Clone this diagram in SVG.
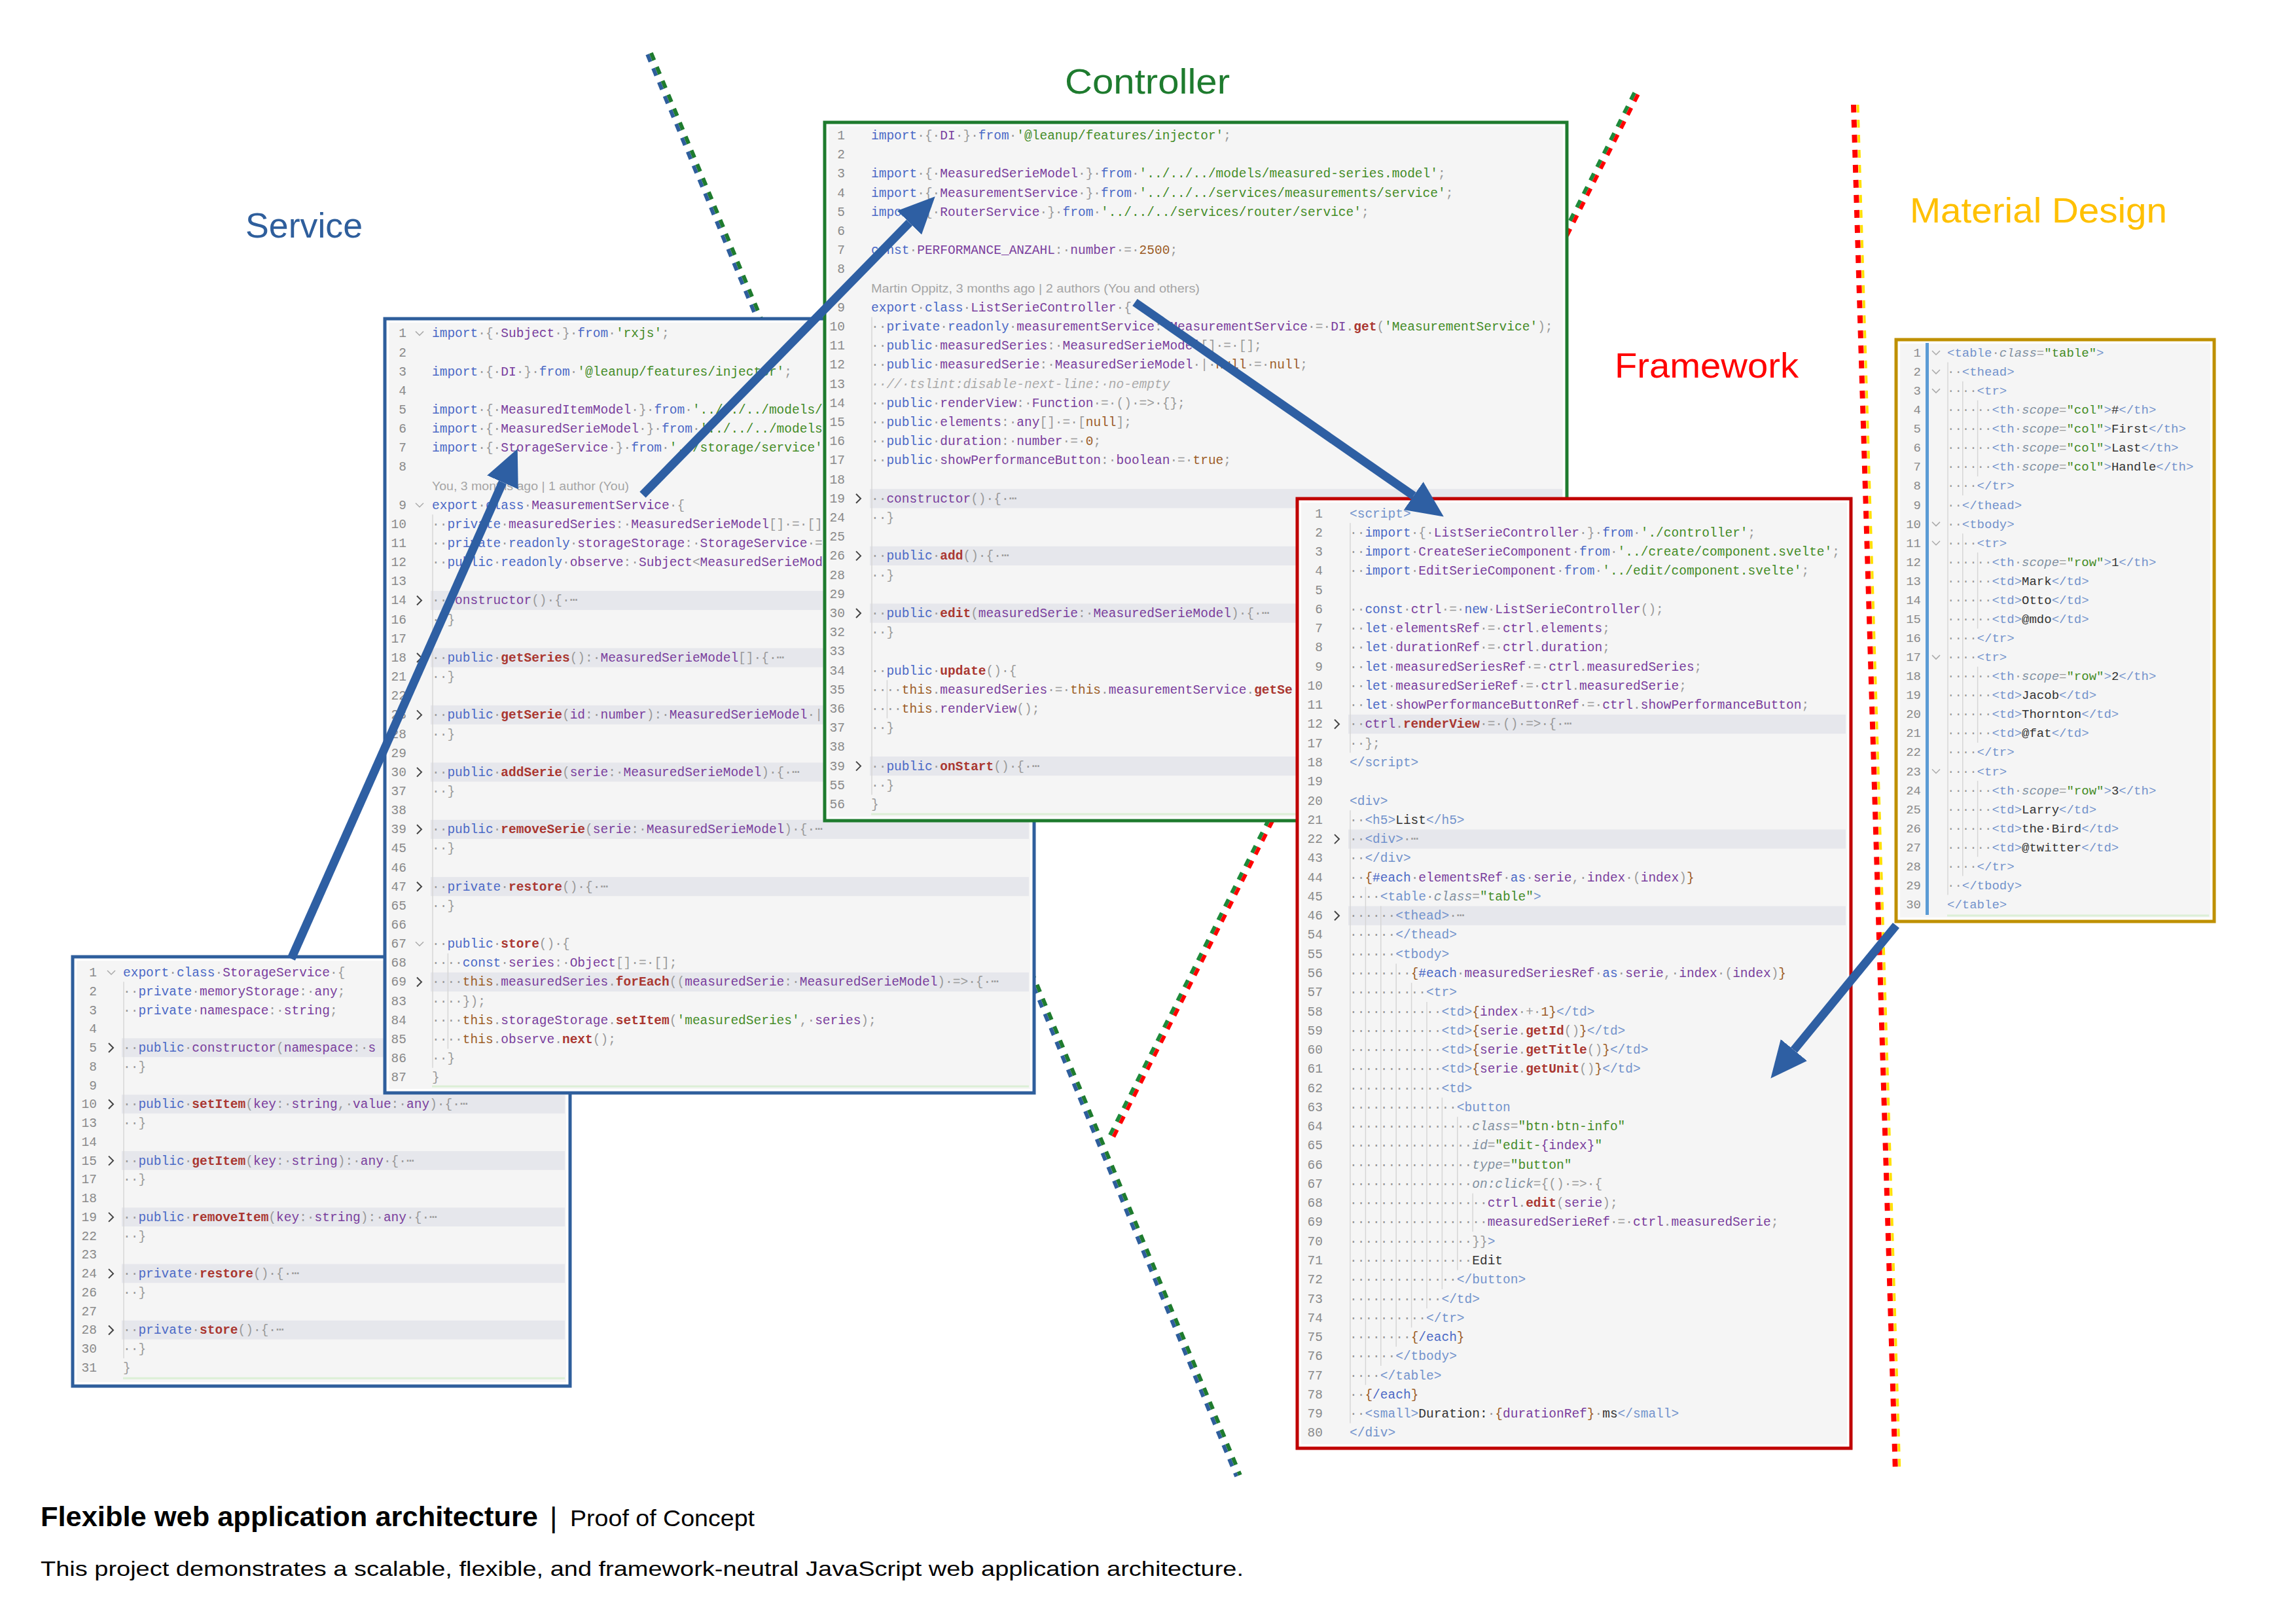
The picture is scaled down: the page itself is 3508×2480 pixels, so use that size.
<svg xmlns="http://www.w3.org/2000/svg" xmlns:xlink="http://www.w3.org/1999/xlink" width="3508" height="2480" viewBox="0 0 3508 2480">
<style>
.pn{fill:#FFFFFF;stroke-width:5}
.bg{fill:#F5F5F5}
.band{fill:#E6E7EC}
.gd{stroke:#D6D6D6;stroke-width:1.5}
.code{font-family:"Liberation Mono","DejaVu Sans Mono",monospace;font-size:19.5px;fill:#9A9A9A}
.m{font-size:19px}
.ln{fill:#8A8A8A;text-anchor:end}
.bl{font-family:"Liberation Sans",Arial,sans-serif;font-size:18px;fill:#A5A5A5}
.k{fill:#4B69C6}
.s{fill:#448C27}
.t{fill:#7A3E9D}
.f{fill:#AA3731;font-weight:bold}
.n{fill:#9C5D27}
.c{fill:#AAAAAA;font-style:italic}
.x{fill:#333333}
.a{fill:#8190A0;font-style:italic}
.tg{fill:#7393CC}
.lbl{font-family:"Liberation Sans",Arial,sans-serif;font-size:54px}
.ft{font-family:"Liberation Sans",Arial,sans-serif;fill:#000000}
.dl{fill:none;stroke-dasharray:12 11}
.arr{stroke:#2E5FA3;stroke-width:13;fill:none;marker-end:url(#ah)}
</style>
<defs>
<marker id="ah" markerUnits="userSpaceOnUse" markerWidth="56" markerHeight="52" refX="0" refY="26" orient="auto"><path d="M0,0 L56,26 L0,52 z" fill="#2E5FA3"/></marker>
<path id="cr" d="M-4,-13 L3,-6 L-4,1" fill="none" stroke="#444444" stroke-width="2"/>
<path id="chd" d="M-6,-9 L0,-3 L6,-9" fill="none" stroke="#AAAAAA" stroke-width="1.5"/>
</defs>
<rect width="3508" height="2480" fill="#FFFFFF"/>

<g id="connectors-dotted">
<path class="dl" d="M989.2,83.2 L1889.2,2256.2" stroke="#2E5E9C" stroke-width="6"/>
<path class="dl" d="M994.8,80.9 L1894.8,2253.9" stroke="#1E7B2E" stroke-width="6"/>
<path class="dl" d="M2497.3,141.7 L1691.3,1743.7" stroke="#1E8A3A" stroke-width="6"/>
<path class="dl" d="M2502.7,144.3 L1696.7,1746.3" stroke="#FF0000" stroke-width="6"/>
<path class="dl" d="M2832,160 L2896,2250" stroke="#FF0000" stroke-width="8"/>
<path class="dl" d="M2838.5,160 L2902.5,2250" stroke="#FFE000" stroke-width="4"/>
</g>

<g id="storage">
<rect class="pn" x="111" y="1462" width="760" height="656" stroke="#2E5E9C"/>
<rect class="bg" x="117" y="1468" width="748" height="644"/>
<line x1="188" y1="2106" x2="863" y2="2106" stroke="#DCEFD6" stroke-width="3"/>
<g class="code" transform="translate(188,1492)">
<rect class="band" x="-2" y="94.44" width="677" height="28.76"/>
<rect class="band" x="-2" y="180.72" width="677" height="28.76"/>
<rect class="band" x="-2" y="267" width="677" height="28.76"/>
<rect class="band" x="-2" y="353.28" width="677" height="28.76"/>
<rect class="band" x="-2" y="439.56" width="677" height="28.76"/>
<rect class="band" x="-2" y="525.84" width="677" height="28.76"/>
<line class="gd" x1="1" y1="8.16" x2="1" y2="583.6"/>
<use xlink:href="#chd" x="-18" y="0"/>
<use xlink:href="#cr" x="-18" y="115.04"/><use xlink:href="#cr" x="-18" y="201.32"/><use xlink:href="#cr" x="-18" y="287.6"/><use xlink:href="#cr" x="-18" y="373.88"/><use xlink:href="#cr" x="-18" y="460.16"/><use xlink:href="#cr" x="-18" y="546.44"/>
<text class="ln"><tspan x="-40" y="0">1</tspan><tspan x="-40" y="28.76">2</tspan><tspan x="-40" y="57.52">3</tspan><tspan x="-40" y="86.28">4</tspan><tspan x="-40" y="115.04">5</tspan><tspan x="-40" y="143.8">8</tspan><tspan x="-40" y="172.56">9</tspan><tspan x="-40" y="201.32">10</tspan><tspan x="-40" y="230.08">13</tspan><tspan x="-40" y="258.84">14</tspan><tspan x="-40" y="287.6">15</tspan><tspan x="-40" y="316.36">17</tspan><tspan x="-40" y="345.12">18</tspan><tspan x="-40" y="373.88">19</tspan><tspan x="-40" y="402.64">22</tspan><tspan x="-40" y="431.4">23</tspan><tspan x="-40" y="460.16">24</tspan><tspan x="-40" y="488.92">26</tspan><tspan x="-40" y="517.68">27</tspan><tspan x="-40" y="546.44">28</tspan><tspan x="-40" y="575.2">30</tspan><tspan x="-40" y="603.96">31</tspan></text>
<text y="0"><tspan class="k">export</tspan>·<tspan class="k">class</tspan>·<tspan class="t">StorageService</tspan>·{</text>
<text y="28.76">··<tspan class="k">private</tspan>·<tspan class="t">memoryStorage</tspan>:·<tspan class="t">any</tspan>;</text>
<text y="57.52">··<tspan class="k">private</tspan>·<tspan class="t">namespace</tspan>:·<tspan class="t">string</tspan>;</text>
<text y="115.04">··<tspan class="k">public</tspan>·<tspan class="t">constructor</tspan>(<tspan class="t">namespace</tspan>:·<tspan class="t">s</tspan></text>
<text y="143.8">··}</text>
<text y="201.32">··<tspan class="k">public</tspan>·<tspan class="f">setItem</tspan>(<tspan class="t">key</tspan>:·<tspan class="t">string</tspan>,·<tspan class="t">value</tspan>:·<tspan class="t">any</tspan>)·{·⋯</text>
<text y="230.08">··}</text>
<text y="287.6">··<tspan class="k">public</tspan>·<tspan class="f">getItem</tspan>(<tspan class="t">key</tspan>:·<tspan class="t">string</tspan>):·<tspan class="t">any</tspan>·{·⋯</text>
<text y="316.36">··}</text>
<text y="373.88">··<tspan class="k">public</tspan>·<tspan class="f">removeItem</tspan>(<tspan class="t">key</tspan>:·<tspan class="t">string</tspan>):·<tspan class="t">any</tspan>·{·⋯</text>
<text y="402.64">··}</text>
<text y="460.16">··<tspan class="k">private</tspan>·<tspan class="f">restore</tspan>()·{·⋯</text>
<text y="488.92">··}</text>
<text y="546.44">··<tspan class="k">private</tspan>·<tspan class="f">store</tspan>()·{·⋯</text>
<text y="575.2">··}</text>
<text y="603.96">}</text>
</g>
</g>

<g id="service">
<rect class="pn" x="588" y="487" width="992" height="1183" stroke="#2E5E9C"/>
<rect class="bg" x="594" y="493" width="980" height="1171"/>
<line x1="660" y1="1660" x2="1572" y2="1660" stroke="#DCEFD6" stroke-width="3"/>
<g class="code" transform="translate(660,515.4)">
<rect class="band" x="-2" y="387.5" width="914" height="29.15"/>
<rect class="band" x="-2" y="474.95" width="914" height="29.15"/>
<rect class="band" x="-2" y="562.4" width="914" height="29.15"/>
<rect class="band" x="-2" y="649.85" width="914" height="29.15"/>
<rect class="band" x="-2" y="737.3" width="914" height="29.15"/>
<rect class="band" x="-2" y="824.75" width="914" height="29.15"/>
<rect class="band" x="-2" y="970.5" width="914" height="29.15"/>
<line class="gd" x1="1" y1="270.9" x2="1" y2="1116.3"/>
<line class="gd" x1="24.4" y1="941.35" x2="24.4" y2="1087.15"/>
<use xlink:href="#chd" x="-19" y="0"/><use xlink:href="#chd" x="-19" y="262.35"/><use xlink:href="#chd" x="-19" y="932.8"/>
<use xlink:href="#cr" x="-19" y="408.1"/><use xlink:href="#cr" x="-19" y="495.55"/><use xlink:href="#cr" x="-19" y="583"/><use xlink:href="#cr" x="-19" y="670.45"/><use xlink:href="#cr" x="-19" y="757.9"/><use xlink:href="#cr" x="-19" y="845.35"/><use xlink:href="#cr" x="-19" y="991.1"/>
<text class="ln"><tspan x="-39" y="0">1</tspan><tspan x="-39" y="29.15">2</tspan><tspan x="-39" y="58.3">3</tspan><tspan x="-39" y="87.45">4</tspan><tspan x="-39" y="116.6">5</tspan><tspan x="-39" y="145.75">6</tspan><tspan x="-39" y="174.9">7</tspan><tspan x="-39" y="204.05">8</tspan><tspan x="-39" y="262.35">9</tspan><tspan x="-39" y="291.5">10</tspan><tspan x="-39" y="320.65">11</tspan><tspan x="-39" y="349.8">12</tspan><tspan x="-39" y="378.95">13</tspan><tspan x="-39" y="408.1">14</tspan><tspan x="-39" y="437.25">16</tspan><tspan x="-39" y="466.4">17</tspan><tspan x="-39" y="495.55">18</tspan><tspan x="-39" y="524.7">21</tspan><tspan x="-39" y="553.85">22</tspan><tspan x="-39" y="583">23</tspan><tspan x="-39" y="612.15">28</tspan><tspan x="-39" y="641.3">29</tspan><tspan x="-39" y="670.45">30</tspan><tspan x="-39" y="699.6">37</tspan><tspan x="-39" y="728.75">38</tspan><tspan x="-39" y="757.9">39</tspan><tspan x="-39" y="787.05">45</tspan><tspan x="-39" y="816.2">46</tspan><tspan x="-39" y="845.35">47</tspan><tspan x="-39" y="874.5">65</tspan><tspan x="-39" y="903.65">66</tspan><tspan x="-39" y="932.8">67</tspan><tspan x="-39" y="961.95">68</tspan><tspan x="-39" y="991.1">69</tspan><tspan x="-39" y="1020.25">83</tspan><tspan x="-39" y="1049.4">84</tspan><tspan x="-39" y="1078.55">85</tspan><tspan x="-39" y="1107.7">86</tspan><tspan x="-39" y="1136.85">87</tspan></text>
<text y="0"><tspan class="k">import</tspan>·{·<tspan class="t">Subject</tspan>·}·<tspan class="k">from</tspan>·<tspan class="s">'rxjs'</tspan>;</text>
<text y="58.3"><tspan class="k">import</tspan>·{·<tspan class="t">DI</tspan>·}·<tspan class="k">from</tspan>·<tspan class="s">'@leanup/features/injector'</tspan>;</text>
<text y="116.6"><tspan class="k">import</tspan>·{·<tspan class="t">MeasuredItemModel</tspan>·}·<tspan class="k">from</tspan>·<tspan class="s">'../../../models/</tspan></text>
<text y="145.75"><tspan class="k">import</tspan>·{·<tspan class="t">MeasuredSerieModel</tspan>·}·<tspan class="k">from</tspan>·<tspan class="s">'../../../models</tspan></text>
<text y="174.9"><tspan class="k">import</tspan>·{·<tspan class="t">StorageService</tspan>·}·<tspan class="k">from</tspan>·<tspan class="s">'../storage/service'</tspan></text>
<text class="bl" y="233.2" textLength="301" lengthAdjust="spacingAndGlyphs">You, 3 months ago | 1 author (You)</text>
<text y="262.35"><tspan class="k">export</tspan>·<tspan class="k">class</tspan>·<tspan class="t">MeasurementService</tspan>·{</text>
<text y="291.5">··<tspan class="k">private</tspan>·<tspan class="t">measuredSeries</tspan>:·<tspan class="t">MeasuredSerieModel</tspan>[]·=·[]</text>
<text y="320.65">··<tspan class="k">private</tspan>·<tspan class="k">readonly</tspan>·<tspan class="t">storageStorage</tspan>:·<tspan class="t">StorageService</tspan>·=</text>
<text y="349.8">··<tspan class="k">public</tspan>·<tspan class="k">readonly</tspan>·<tspan class="t">observe</tspan>:·<tspan class="t">Subject</tspan>&lt;<tspan class="t">MeasuredSerieMod</tspan></text>
<text y="408.1">··<tspan class="t">constructor</tspan>()·{·⋯</text>
<text y="437.25">··}</text>
<text y="495.55">··<tspan class="k">public</tspan>·<tspan class="f">getSeries</tspan>():·<tspan class="t">MeasuredSerieModel</tspan>[]·{·⋯</text>
<text y="524.7">··}</text>
<text y="583">··<tspan class="k">public</tspan>·<tspan class="f">getSerie</tspan>(<tspan class="t">id</tspan>:·<tspan class="t">number</tspan>):·<tspan class="t">MeasuredSerieModel</tspan>·|</text>
<text y="612.15">··}</text>
<text y="670.45">··<tspan class="k">public</tspan>·<tspan class="f">addSerie</tspan>(<tspan class="t">serie</tspan>:·<tspan class="t">MeasuredSerieModel</tspan>)·{·⋯</text>
<text y="699.6">··}</text>
<text y="757.9">··<tspan class="k">public</tspan>·<tspan class="f">removeSerie</tspan>(<tspan class="t">serie</tspan>:·<tspan class="t">MeasuredSerieModel</tspan>)·{·⋯</text>
<text y="787.05">··}</text>
<text y="845.35">··<tspan class="k">private</tspan>·<tspan class="f">restore</tspan>()·{·⋯</text>
<text y="874.5">··}</text>
<text y="932.8">··<tspan class="k">public</tspan>·<tspan class="f">store</tspan>()·{</text>
<text y="961.95">····<tspan class="k">const</tspan>·<tspan class="t">series</tspan>:·<tspan class="t">Object</tspan>[]·=·[];</text>
<text y="991.1">····<tspan class="n">this</tspan>.<tspan class="t">measuredSeries</tspan>.<tspan class="f">forEach</tspan>((<tspan class="t">measuredSerie</tspan>:·<tspan class="t">MeasuredSerieModel</tspan>)·=&gt;·{·⋯</text>
<text y="1020.25">····});</text>
<text y="1049.4">····<tspan class="n">this</tspan>.<tspan class="t">storageStorage</tspan>.<tspan class="f">setItem</tspan>(<tspan class="s">'measuredSeries'</tspan>,·<tspan class="t">series</tspan>);</text>
<text y="1078.55">····<tspan class="n">this</tspan>.<tspan class="t">observe</tspan>.<tspan class="f">next</tspan>();</text>
<text y="1107.7">··}</text>
<text y="1136.85">}</text>
</g>
</g>

<g id="controller">
<rect class="pn" x="1260" y="187" width="1134" height="1067" stroke="#1E7B2E"/>
<rect class="bg" x="1266" y="193" width="1122" height="1055"/>
<line x1="1331" y1="1244" x2="2384" y2="1244" stroke="#DCEFD6" stroke-width="3"/>
<g class="code" transform="translate(1331,213)">
<rect class="band" x="-2" y="534.2" width="1058" height="29.2"/>
<rect class="band" x="-2" y="621.8" width="1058" height="29.2"/>
<rect class="band" x="-2" y="709.4" width="1058" height="29.2"/>
<rect class="band" x="-2" y="943" width="1058" height="29.2"/>
<line class="gd" x1="1" y1="271.4" x2="1" y2="1001.4"/>
<line class="gd" x1="24.4" y1="826.2" x2="24.4" y2="884.6"/>
<use xlink:href="#cr" x="-19" y="554.8"/><use xlink:href="#cr" x="-19" y="642.4"/><use xlink:href="#cr" x="-19" y="730"/><use xlink:href="#cr" x="-19" y="963.6"/>
<text class="ln"><tspan x="-40" y="0">1</tspan><tspan x="-40" y="29.2">2</tspan><tspan x="-40" y="58.4">3</tspan><tspan x="-40" y="87.6">4</tspan><tspan x="-40" y="116.8">5</tspan><tspan x="-40" y="146">6</tspan><tspan x="-40" y="175.2">7</tspan><tspan x="-40" y="204.4">8</tspan><tspan x="-40" y="262.8">9</tspan><tspan x="-40" y="292">10</tspan><tspan x="-40" y="321.2">11</tspan><tspan x="-40" y="350.4">12</tspan><tspan x="-40" y="379.6">13</tspan><tspan x="-40" y="408.8">14</tspan><tspan x="-40" y="438">15</tspan><tspan x="-40" y="467.2">16</tspan><tspan x="-40" y="496.4">17</tspan><tspan x="-40" y="525.6">18</tspan><tspan x="-40" y="554.8">19</tspan><tspan x="-40" y="584">24</tspan><tspan x="-40" y="613.2">25</tspan><tspan x="-40" y="642.4">26</tspan><tspan x="-40" y="671.6">28</tspan><tspan x="-40" y="700.8">29</tspan><tspan x="-40" y="730">30</tspan><tspan x="-40" y="759.2">32</tspan><tspan x="-40" y="788.4">33</tspan><tspan x="-40" y="817.6">34</tspan><tspan x="-40" y="846.8">35</tspan><tspan x="-40" y="876">36</tspan><tspan x="-40" y="905.2">37</tspan><tspan x="-40" y="934.4">38</tspan><tspan x="-40" y="963.6">39</tspan><tspan x="-40" y="992.8">55</tspan><tspan x="-40" y="1022">56</tspan></text>
<text y="0"><tspan class="k">import</tspan>·{·<tspan class="t">DI</tspan>·}·<tspan class="k">from</tspan>·<tspan class="s">'@leanup/features/injector'</tspan>;</text>
<text y="58.4"><tspan class="k">import</tspan>·{·<tspan class="t">MeasuredSerieModel</tspan>·}·<tspan class="k">from</tspan>·<tspan class="s">'../../../models/measured-series.model'</tspan>;</text>
<text y="87.6"><tspan class="k">import</tspan>·{·<tspan class="t">MeasurementService</tspan>·}·<tspan class="k">from</tspan>·<tspan class="s">'../../../services/measurements/service'</tspan>;</text>
<text y="116.8"><tspan class="k">import</tspan>·{·<tspan class="t">RouterService</tspan>·}·<tspan class="k">from</tspan>·<tspan class="s">'../../../services/router/service'</tspan>;</text>
<text y="175.2"><tspan class="k">const</tspan>·<tspan class="t">PERFORMANCE_ANZAHL</tspan>:·<tspan class="t">number</tspan>·=·<tspan class="n">2500</tspan>;</text>
<text class="bl" y="233.6" textLength="502" lengthAdjust="spacingAndGlyphs">Martin Oppitz, 3 months ago | 2 authors (You and others)</text>
<text y="262.8"><tspan class="k">export</tspan>·<tspan class="k">class</tspan>·<tspan class="t">ListSerieController</tspan>·{</text>
<text y="292">··<tspan class="k">private</tspan>·<tspan class="k">readonly</tspan>·<tspan class="t">measurementService</tspan>:·<tspan class="t">MeasurementService</tspan>·=·<tspan class="t">DI</tspan>.<tspan class="f">get</tspan>(<tspan class="s">'MeasurementService'</tspan>);</text>
<text y="321.2">··<tspan class="k">public</tspan>·<tspan class="t">measuredSeries</tspan>:·<tspan class="t">MeasuredSerieModel</tspan>[]·=·[];</text>
<text y="350.4">··<tspan class="k">public</tspan>·<tspan class="t">measuredSerie</tspan>:·<tspan class="t">MeasuredSerieModel</tspan>·|·<tspan class="n">null</tspan>·=·<tspan class="n">null</tspan>;</text>
<text y="379.6"><tspan class="c">··//·tslint:disable-next-line:·no-empty</tspan></text>
<text y="408.8">··<tspan class="k">public</tspan>·<tspan class="t">renderView</tspan>:·<tspan class="t">Function</tspan>·=·()·=&gt;·{};</text>
<text y="438">··<tspan class="k">public</tspan>·<tspan class="t">elements</tspan>:·<tspan class="t">any</tspan>[]·=·[<tspan class="n">null</tspan>];</text>
<text y="467.2">··<tspan class="k">public</tspan>·<tspan class="t">duration</tspan>:·<tspan class="t">number</tspan>·=·<tspan class="n">0</tspan>;</text>
<text y="496.4">··<tspan class="k">public</tspan>·<tspan class="t">showPerformanceButton</tspan>:·<tspan class="t">boolean</tspan>·=·<tspan class="n">true</tspan>;</text>
<text y="554.8">··<tspan class="t">constructor</tspan>()·{·⋯</text>
<text y="584">··}</text>
<text y="642.4">··<tspan class="k">public</tspan>·<tspan class="f">add</tspan>()·{·⋯</text>
<text y="671.6">··}</text>
<text y="730">··<tspan class="k">public</tspan>·<tspan class="f">edit</tspan>(<tspan class="t">measuredSerie</tspan>:·<tspan class="t">MeasuredSerieModel</tspan>)·{·⋯</text>
<text y="759.2">··}</text>
<text y="817.6">··<tspan class="k">public</tspan>·<tspan class="f">update</tspan>()·{</text>
<text y="846.8">····<tspan class="n">this</tspan>.<tspan class="t">measuredSeries</tspan>·=·<tspan class="n">this</tspan>.<tspan class="t">measurementService</tspan>.<tspan class="f">getSe</tspan></text>
<text y="876">····<tspan class="n">this</tspan>.<tspan class="t">renderView</tspan>();</text>
<text y="905.2">··}</text>
<text y="963.6">··<tspan class="k">public</tspan>·<tspan class="f">onStart</tspan>()·{·⋯</text>
<text y="992.8">··}</text>
<text y="1022">}</text>
</g>
</g>

<g id="framework">
<rect class="pn" x="1982" y="762" width="846" height="1451" stroke="#C00000"/>
<rect class="bg" x="1988" y="768" width="834" height="1439"/>
<g class="code" transform="translate(2062,790.5)">
<rect class="band" x="-2" y="301.37" width="760" height="29.27"/>
<rect class="band" x="-2" y="476.99" width="760" height="29.27"/>
<rect class="band" x="-2" y="594.07" width="760" height="29.27"/>
<line class="gd" x1="1" y1="8.67" x2="1" y2="359.84"/>
<line class="gd" x1="1" y1="447.72" x2="1" y2="1384.29"/>
<line class="gd" x1="24.4" y1="564.8" x2="24.4" y2="1325.75"/>
<line class="gd" x1="47.8" y1="594.07" x2="47.8" y2="1296.48"/>
<line class="gd" x1="71.2" y1="681.88" x2="71.2" y2="1267.21"/>
<line class="gd" x1="94.6" y1="711.15" x2="94.6" y2="1237.94"/>
<line class="gd" x1="118" y1="740.42" x2="118" y2="1208.67"/>
<line class="gd" x1="141.4" y1="886.77" x2="141.4" y2="1179.4"/>
<line class="gd" x1="164.8" y1="916.04" x2="164.8" y2="1150.13"/>
<line class="gd" x1="188.2" y1="1033.12" x2="188.2" y2="1091.59"/>
<use xlink:href="#cr" x="-19" y="321.97"/><use xlink:href="#cr" x="-19" y="497.59"/><use xlink:href="#cr" x="-19" y="614.67"/>
<text class="ln"><tspan x="-41" y="0">1</tspan><tspan x="-41" y="29.27">2</tspan><tspan x="-41" y="58.54">3</tspan><tspan x="-41" y="87.81">4</tspan><tspan x="-41" y="117.08">5</tspan><tspan x="-41" y="146.35">6</tspan><tspan x="-41" y="175.62">7</tspan><tspan x="-41" y="204.89">8</tspan><tspan x="-41" y="234.16">9</tspan><tspan x="-41" y="263.43">10</tspan><tspan x="-41" y="292.7">11</tspan><tspan x="-41" y="321.97">12</tspan><tspan x="-41" y="351.24">17</tspan><tspan x="-41" y="380.51">18</tspan><tspan x="-41" y="409.78">19</tspan><tspan x="-41" y="439.05">20</tspan><tspan x="-41" y="468.32">21</tspan><tspan x="-41" y="497.59">22</tspan><tspan x="-41" y="526.86">43</tspan><tspan x="-41" y="556.13">44</tspan><tspan x="-41" y="585.4">45</tspan><tspan x="-41" y="614.67">46</tspan><tspan x="-41" y="643.94">54</tspan><tspan x="-41" y="673.21">55</tspan><tspan x="-41" y="702.48">56</tspan><tspan x="-41" y="731.75">57</tspan><tspan x="-41" y="761.02">58</tspan><tspan x="-41" y="790.29">59</tspan><tspan x="-41" y="819.56">60</tspan><tspan x="-41" y="848.83">61</tspan><tspan x="-41" y="878.1">62</tspan><tspan x="-41" y="907.37">63</tspan><tspan x="-41" y="936.64">64</tspan><tspan x="-41" y="965.91">65</tspan><tspan x="-41" y="995.18">66</tspan><tspan x="-41" y="1024.45">67</tspan><tspan x="-41" y="1053.72">68</tspan><tspan x="-41" y="1082.99">69</tspan><tspan x="-41" y="1112.26">70</tspan><tspan x="-41" y="1141.53">71</tspan><tspan x="-41" y="1170.8">72</tspan><tspan x="-41" y="1200.07">73</tspan><tspan x="-41" y="1229.34">74</tspan><tspan x="-41" y="1258.61">75</tspan><tspan x="-41" y="1287.88">76</tspan><tspan x="-41" y="1317.15">77</tspan><tspan x="-41" y="1346.42">78</tspan><tspan x="-41" y="1375.69">79</tspan><tspan x="-41" y="1404.96">80</tspan></text>
<text y="0"><tspan class="tg">&lt;script&gt;</tspan></text>
<text y="29.27">··<tspan class="k">import</tspan>·{·<tspan class="t">ListSerieController</tspan>·}·<tspan class="k">from</tspan>·<tspan class="s">'./controller'</tspan>;</text>
<text y="58.54">··<tspan class="k">import</tspan>·<tspan class="t">CreateSerieComponent</tspan>·<tspan class="k">from</tspan>·<tspan class="s">'../create/component.svelte'</tspan>;</text>
<text y="87.81">··<tspan class="k">import</tspan>·<tspan class="t">EditSerieComponent</tspan>·<tspan class="k">from</tspan>·<tspan class="s">'../edit/component.svelte'</tspan>;</text>
<text y="146.35">··<tspan class="k">const</tspan>·<tspan class="t">ctrl</tspan>·=·<tspan class="k">new</tspan>·<tspan class="t">ListSerieController</tspan>();</text>
<text y="175.62">··<tspan class="k">let</tspan>·<tspan class="t">elementsRef</tspan>·=·<tspan class="t">ctrl</tspan>.<tspan class="t">elements</tspan>;</text>
<text y="204.89">··<tspan class="k">let</tspan>·<tspan class="t">durationRef</tspan>·=·<tspan class="t">ctrl</tspan>.<tspan class="t">duration</tspan>;</text>
<text y="234.16">··<tspan class="k">let</tspan>·<tspan class="t">measuredSeriesRef</tspan>·=·<tspan class="t">ctrl</tspan>.<tspan class="t">measuredSeries</tspan>;</text>
<text y="263.43">··<tspan class="k">let</tspan>·<tspan class="t">measuredSerieRef</tspan>·=·<tspan class="t">ctrl</tspan>.<tspan class="t">measuredSerie</tspan>;</text>
<text y="292.7">··<tspan class="k">let</tspan>·<tspan class="t">showPerformanceButtonRef</tspan>·=·<tspan class="t">ctrl</tspan>.<tspan class="t">showPerformanceButton</tspan>;</text>
<text y="321.97">··<tspan class="t">ctrl</tspan>.<tspan class="f">renderView</tspan>·=·()·=&gt;·{·⋯</text>
<text y="351.24">··};</text>
<text y="380.51"><tspan class="tg">&lt;/script&gt;</tspan></text>
<text y="439.05"><tspan class="tg">&lt;div&gt;</tspan></text>
<text y="468.32">··<tspan class="tg">&lt;h5&gt;</tspan><tspan class="x">List</tspan><tspan class="tg">&lt;/h5&gt;</tspan></text>
<text y="497.59">··<tspan class="tg">&lt;div&gt;</tspan>·⋯</text>
<text y="526.86">··<tspan class="tg">&lt;/div&gt;</tspan></text>
<text y="556.13">··<tspan class="n">{</tspan><tspan class="k">#each</tspan>·<tspan class="t">elementsRef</tspan>·<tspan class="k">as</tspan>·<tspan class="t">serie</tspan>,·<tspan class="t">index</tspan>·(<tspan class="t">index</tspan>)<tspan class="n">}</tspan></text>
<text y="585.4">····<tspan class="tg">&lt;table</tspan>·<tspan class="a">class</tspan>=<tspan class="s">"table"</tspan><tspan class="tg">&gt;</tspan></text>
<text y="614.67">······<tspan class="tg">&lt;thead&gt;</tspan>·⋯</text>
<text y="643.94">······<tspan class="tg">&lt;/thead&gt;</tspan></text>
<text y="673.21">······<tspan class="tg">&lt;tbody&gt;</tspan></text>
<text y="702.48">········<tspan class="n">{</tspan><tspan class="k">#each</tspan>·<tspan class="t">measuredSeriesRef</tspan>·<tspan class="k">as</tspan>·<tspan class="t">serie</tspan>,·<tspan class="t">index</tspan>·(<tspan class="t">index</tspan>)<tspan class="n">}</tspan></text>
<text y="731.75">··········<tspan class="tg">&lt;tr&gt;</tspan></text>
<text y="761.02">············<tspan class="tg">&lt;td&gt;</tspan><tspan class="n">{</tspan><tspan class="t">index</tspan>·+·<tspan class="n">1}</tspan><tspan class="tg">&lt;/td&gt;</tspan></text>
<text y="790.29">············<tspan class="tg">&lt;td&gt;</tspan><tspan class="n">{</tspan><tspan class="t">serie</tspan>.<tspan class="f">getId</tspan>()<tspan class="n">}</tspan><tspan class="tg">&lt;/td&gt;</tspan></text>
<text y="819.56">············<tspan class="tg">&lt;td&gt;</tspan><tspan class="n">{</tspan><tspan class="t">serie</tspan>.<tspan class="f">getTitle</tspan>()<tspan class="n">}</tspan><tspan class="tg">&lt;/td&gt;</tspan></text>
<text y="848.83">············<tspan class="tg">&lt;td&gt;</tspan><tspan class="n">{</tspan><tspan class="t">serie</tspan>.<tspan class="f">getUnit</tspan>()<tspan class="n">}</tspan><tspan class="tg">&lt;/td&gt;</tspan></text>
<text y="878.1">············<tspan class="tg">&lt;td&gt;</tspan></text>
<text y="907.37">··············<tspan class="tg">&lt;button</tspan></text>
<text y="936.64">················<tspan class="a">class</tspan>=<tspan class="s">"btn·btn-info"</tspan></text>
<text y="965.91">················<tspan class="a">id</tspan>=<tspan class="s">"edit-</tspan><tspan class="t">{index}</tspan><tspan class="s">"</tspan></text>
<text y="995.18">················<tspan class="a">type</tspan>=<tspan class="s">"button"</tspan></text>
<text y="1024.45">················<tspan class="a">on:click</tspan>={()·=&gt;·{</text>
<text y="1053.72">··················<tspan class="t">ctrl</tspan>.<tspan class="f">edit</tspan>(<tspan class="t">serie</tspan>);</text>
<text y="1082.99">··················<tspan class="t">measuredSerieRef</tspan>·=·<tspan class="t">ctrl</tspan>.<tspan class="t">measuredSerie</tspan>;</text>
<text y="1112.26">················}}<tspan class="tg">&gt;</tspan></text>
<text y="1141.53">················<tspan class="x">Edit</tspan></text>
<text y="1170.8">··············<tspan class="tg">&lt;/button&gt;</tspan></text>
<text y="1200.07">············<tspan class="tg">&lt;/td&gt;</tspan></text>
<text y="1229.34">··········<tspan class="tg">&lt;/tr&gt;</tspan></text>
<text y="1258.61">········<tspan class="n">{</tspan><tspan class="k">/each</tspan><tspan class="n">}</tspan></text>
<text y="1287.88">······<tspan class="tg">&lt;/tbody&gt;</tspan></text>
<text y="1317.15">····<tspan class="tg">&lt;/table&gt;</tspan></text>
<text y="1346.42">··<tspan class="n">{</tspan><tspan class="k">/each</tspan><tspan class="n">}</tspan></text>
<text y="1375.69">··<tspan class="tg">&lt;small&gt;</tspan><tspan class="x">Duration:</tspan>·<tspan class="n">{</tspan><tspan class="t">durationRef</tspan><tspan class="n">}</tspan>·<tspan class="x">ms</tspan><tspan class="tg">&lt;/small&gt;</tspan></text>
<text y="1404.96"><tspan class="tg">&lt;/div&gt;</tspan></text>
</g>
</g>

<g id="material">
<rect class="pn" x="2897" y="519" width="486" height="889" stroke="#BF9000"/>
<rect class="bg" x="2903" y="525" width="474" height="877"/>
<rect x="2942" y="524" width="5" height="874" fill="#5B9BD5"/>
<line x1="2975" y1="1399" x2="3375" y2="1399" stroke="#DCEFD6" stroke-width="3"/>
<g class="code m" transform="translate(2975,545)">
<line class="gd" x1="1" y1="8.57" x2="1" y2="822.46"/>
<line class="gd" x1="23.8" y1="37.64" x2="23.8" y2="212"/>
<line class="gd" x1="23.8" y1="270.2" x2="23.8" y2="793.4"/>
<line class="gd" x1="46.6" y1="66.71" x2="46.6" y2="182.9"/>
<line class="gd" x1="46.6" y1="299.27" x2="46.6" y2="415.5"/>
<line class="gd" x1="46.6" y1="473.69" x2="46.6" y2="589.9"/>
<line class="gd" x1="46.6" y1="648.11" x2="46.6" y2="764.3"/>
<use xlink:href="#chd" x="-17" y="0"/><use xlink:href="#chd" x="-17" y="29.07"/><use xlink:href="#chd" x="-17" y="58.14"/><use xlink:href="#chd" x="-17" y="261.63"/><use xlink:href="#chd" x="-17" y="290.7"/><use xlink:href="#chd" x="-17" y="465.12"/><use xlink:href="#chd" x="-17" y="639.54"/>
<text class="ln"><tspan x="-40" y="0">1</tspan><tspan x="-40" y="29.07">2</tspan><tspan x="-40" y="58.14">3</tspan><tspan x="-40" y="87.21">4</tspan><tspan x="-40" y="116.28">5</tspan><tspan x="-40" y="145.35">6</tspan><tspan x="-40" y="174.42">7</tspan><tspan x="-40" y="203.49">8</tspan><tspan x="-40" y="232.56">9</tspan><tspan x="-40" y="261.63">10</tspan><tspan x="-40" y="290.7">11</tspan><tspan x="-40" y="319.77">12</tspan><tspan x="-40" y="348.84">13</tspan><tspan x="-40" y="377.91">14</tspan><tspan x="-40" y="406.98">15</tspan><tspan x="-40" y="436.05">16</tspan><tspan x="-40" y="465.12">17</tspan><tspan x="-40" y="494.19">18</tspan><tspan x="-40" y="523.26">19</tspan><tspan x="-40" y="552.33">20</tspan><tspan x="-40" y="581.4">21</tspan><tspan x="-40" y="610.47">22</tspan><tspan x="-40" y="639.54">23</tspan><tspan x="-40" y="668.61">24</tspan><tspan x="-40" y="697.68">25</tspan><tspan x="-40" y="726.75">26</tspan><tspan x="-40" y="755.82">27</tspan><tspan x="-40" y="784.89">28</tspan><tspan x="-40" y="813.96">29</tspan><tspan x="-40" y="843.03">30</tspan></text>
<text y="0"><tspan class="tg">&lt;table</tspan>·<tspan class="a">class</tspan>=<tspan class="s">"table"</tspan><tspan class="tg">&gt;</tspan></text>
<text y="29.07">··<tspan class="tg">&lt;thead&gt;</tspan></text>
<text y="58.14">····<tspan class="tg">&lt;tr&gt;</tspan></text>
<text y="87.21">······<tspan class="tg">&lt;th</tspan>·<tspan class="a">scope</tspan>=<tspan class="s">"col"</tspan><tspan class="tg">&gt;</tspan><tspan class="x">#</tspan><tspan class="tg">&lt;/th&gt;</tspan></text>
<text y="116.28">······<tspan class="tg">&lt;th</tspan>·<tspan class="a">scope</tspan>=<tspan class="s">"col"</tspan><tspan class="tg">&gt;</tspan><tspan class="x">First</tspan><tspan class="tg">&lt;/th&gt;</tspan></text>
<text y="145.35">······<tspan class="tg">&lt;th</tspan>·<tspan class="a">scope</tspan>=<tspan class="s">"col"</tspan><tspan class="tg">&gt;</tspan><tspan class="x">Last</tspan><tspan class="tg">&lt;/th&gt;</tspan></text>
<text y="174.42">······<tspan class="tg">&lt;th</tspan>·<tspan class="a">scope</tspan>=<tspan class="s">"col"</tspan><tspan class="tg">&gt;</tspan><tspan class="x">Handle</tspan><tspan class="tg">&lt;/th&gt;</tspan></text>
<text y="203.49">····<tspan class="tg">&lt;/tr&gt;</tspan></text>
<text y="232.56">··<tspan class="tg">&lt;/thead&gt;</tspan></text>
<text y="261.63">··<tspan class="tg">&lt;tbody&gt;</tspan></text>
<text y="290.7">····<tspan class="tg">&lt;tr&gt;</tspan></text>
<text y="319.77">······<tspan class="tg">&lt;th</tspan>·<tspan class="a">scope</tspan>=<tspan class="s">"row"</tspan><tspan class="tg">&gt;</tspan><tspan class="x">1</tspan><tspan class="tg">&lt;/th&gt;</tspan></text>
<text y="348.84">······<tspan class="tg">&lt;td&gt;</tspan><tspan class="x">Mark</tspan><tspan class="tg">&lt;/td&gt;</tspan></text>
<text y="377.91">······<tspan class="tg">&lt;td&gt;</tspan><tspan class="x">Otto</tspan><tspan class="tg">&lt;/td&gt;</tspan></text>
<text y="406.98">······<tspan class="tg">&lt;td&gt;</tspan><tspan class="x">@mdo</tspan><tspan class="tg">&lt;/td&gt;</tspan></text>
<text y="436.05">····<tspan class="tg">&lt;/tr&gt;</tspan></text>
<text y="465.12">····<tspan class="tg">&lt;tr&gt;</tspan></text>
<text y="494.19">······<tspan class="tg">&lt;th</tspan>·<tspan class="a">scope</tspan>=<tspan class="s">"row"</tspan><tspan class="tg">&gt;</tspan><tspan class="x">2</tspan><tspan class="tg">&lt;/th&gt;</tspan></text>
<text y="523.26">······<tspan class="tg">&lt;td&gt;</tspan><tspan class="x">Jacob</tspan><tspan class="tg">&lt;/td&gt;</tspan></text>
<text y="552.33">······<tspan class="tg">&lt;td&gt;</tspan><tspan class="x">Thornton</tspan><tspan class="tg">&lt;/td&gt;</tspan></text>
<text y="581.4">······<tspan class="tg">&lt;td&gt;</tspan><tspan class="x">@fat</tspan><tspan class="tg">&lt;/td&gt;</tspan></text>
<text y="610.47">····<tspan class="tg">&lt;/tr&gt;</tspan></text>
<text y="639.54">····<tspan class="tg">&lt;tr&gt;</tspan></text>
<text y="668.61">······<tspan class="tg">&lt;th</tspan>·<tspan class="a">scope</tspan>=<tspan class="s">"row"</tspan><tspan class="tg">&gt;</tspan><tspan class="x">3</tspan><tspan class="tg">&lt;/th&gt;</tspan></text>
<text y="697.68">······<tspan class="tg">&lt;td&gt;</tspan><tspan class="x">Larry</tspan><tspan class="tg">&lt;/td&gt;</tspan></text>
<text y="726.75">······<tspan class="tg">&lt;td&gt;</tspan><tspan class="x">the·Bird</tspan><tspan class="tg">&lt;/td&gt;</tspan></text>
<text y="755.82">······<tspan class="tg">&lt;td&gt;</tspan><tspan class="x">@twitter</tspan><tspan class="tg">&lt;/td&gt;</tspan></text>
<text y="784.89">····<tspan class="tg">&lt;/tr&gt;</tspan></text>
<text y="813.96">··<tspan class="tg">&lt;/tbody&gt;</tspan></text>
<text y="843.03"><tspan class="tg">&lt;/table&gt;</tspan></text>
</g>
</g>

<g id="connectors">
<path class="arr" d="M445,1465 L768,737"/>
<path class="arr" d="M982,756 L1389.5,340.3"/>
<path class="arr" d="M1734,462 L2159.8,757.6"/>
<path class="arr" d="M2897,1414 L2740.9,1604.5"/>
</g>

<g id="labels">
<text class="lbl" x="375" y="363" fill="#2E5E9C" textLength="179" lengthAdjust="spacingAndGlyphs">Service</text>
<text class="lbl" x="1627" y="143" fill="#1E7B2E" textLength="252" lengthAdjust="spacingAndGlyphs">Controller</text>
<text class="lbl" x="2467" y="577" fill="#FF0000" textLength="281" lengthAdjust="spacingAndGlyphs">Framework</text>
<text class="lbl" x="2918" y="340" fill="#FFC000" textLength="393" lengthAdjust="spacingAndGlyphs">Material Design</text>
</g>

<g id="footer">
<text class="ft" x="62" y="2332" font-size="42" font-weight="bold" textLength="760" lengthAdjust="spacingAndGlyphs">Flexible web application architecture</text>
<text class="ft" x="840" y="2334" font-size="44">|</text>
<text class="ft" x="871" y="2332" font-size="35" textLength="282" lengthAdjust="spacingAndGlyphs">Proof of Concept</text>
<text class="ft" x="62" y="2408" font-size="32" textLength="1838" lengthAdjust="spacingAndGlyphs">This project demonstrates a scalable, flexible, and framework-neutral JavaScript web application architecture.</text>
</g>
</svg>
